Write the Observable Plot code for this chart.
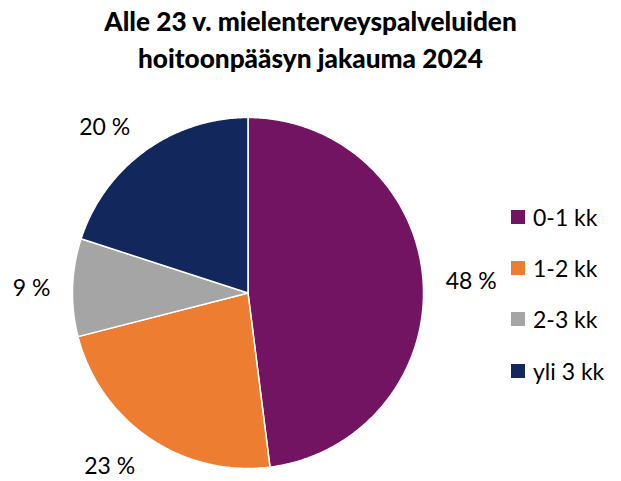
<!DOCTYPE html>
<html><head><meta charset="utf-8">
<script src="https://cdn.jsdelivr.net/npm/d3@7"></script>
<script src="https://cdn.jsdelivr.net/npm/@observablehq/plot@0.6"></script>
<style>
body{margin:0;background:#fff;}
#wrap{position:relative;width:621px;height:481px;font-family:Lato,"Open Sans",sans-serif;}
#title{position:absolute;left:0;top:3px;width:621px;text-align:center;font-weight:900;font-size:26.2px;line-height:37px;color:#000;}
#legend{position:absolute;left:511px;top:203px;font-size:23px;color:#000;}
.li{display:flex;align-items:center;height:51.3px;}
.sw{width:14px;height:14px;margin-right:8px;margin-top:-24px;}
.li span{margin-top:-24px;}
#plot{position:absolute;left:0;top:0;}
</style></head>
<body><div id="wrap"><div id="title">Alle 23 v. mielenterveyspalveluiden<br>hoitoonpääsyn jakauma 2024</div><div id="plot"></div><div id="legend"></div></div>
<script>
const categories = ["0-1 kk", "1-2 kk", "2-3 kk", "yli 3 kk"];
const values = [48, 23, 9, 20];
const labels = ["48 %", "23 %", "9 %", "20 %"];
const colors = ["#721461", "#ED7D31", "#A5A5A5", "#12285C"];

const total = d3.sum(values);
const polys = [];
const labelRows = [];
let acc = 0;
categories.forEach((c, i) => {
  const a0 = acc / total * 2 * Math.PI;
  acc += values[i];
  const a1 = acc / total * 2 * Math.PI;
  polys.push({k: c, x: 0, y: 0});
  const n = Math.max(2, Math.ceil((a1 - a0) / 0.01));
  for (let j = 0; j <= n; j++) {
    const a = a0 + (a1 - a0) * j / n;
    polys.push({k: c, x: Math.sin(a), y: Math.cos(a)});
  }
  polys.push({k: c, x: 0, y: 0});
  const m = (a0 + a1) / 2;
  const hw = labels[i].length * 7.2 / 175.5;
  labelRows.push({t: labels[i], x: 1.11 * Math.sin(m) + hw * Math.sign(Math.sin(m)), y: 1.11 * Math.cos(m) + 0.07 * Math.cos(m)});
});

const chart = Plot.plot({
  width: 621, height: 481,
  x: {domain: [-1, 1], range: [72, 423], axis: null},
  y: {domain: [-1, 1], range: [468, 117], axis: null},
  color: {domain: categories, range: colors},
  style: {fontFamily: "Lato, 'Open Sans', sans-serif", background: "transparent"},
  marks: [
    Plot.line(polys, {x: "x", y: "y", z: "k", fill: "k", stroke: "white", strokeWidth: 1.5, strokeLinejoin: "round", curve: "linear"}),
    Plot.text(labelRows, {x: "x", y: "y", text: "t", fontSize: 23, fill: "#000", textAnchor: "middle", lineAnchor: "middle", dy: 2})
  ]
});
document.getElementById("plot").appendChild(chart);

const lg = document.getElementById("legend");
categories.forEach((c, i) => {
  const d = document.createElement("div"); d.className = "li";
  d.innerHTML = `<div class="sw" style="background:${colors[i]}"></div><span>${c}</span>`;
  lg.appendChild(d);
});
</script></body></html>
